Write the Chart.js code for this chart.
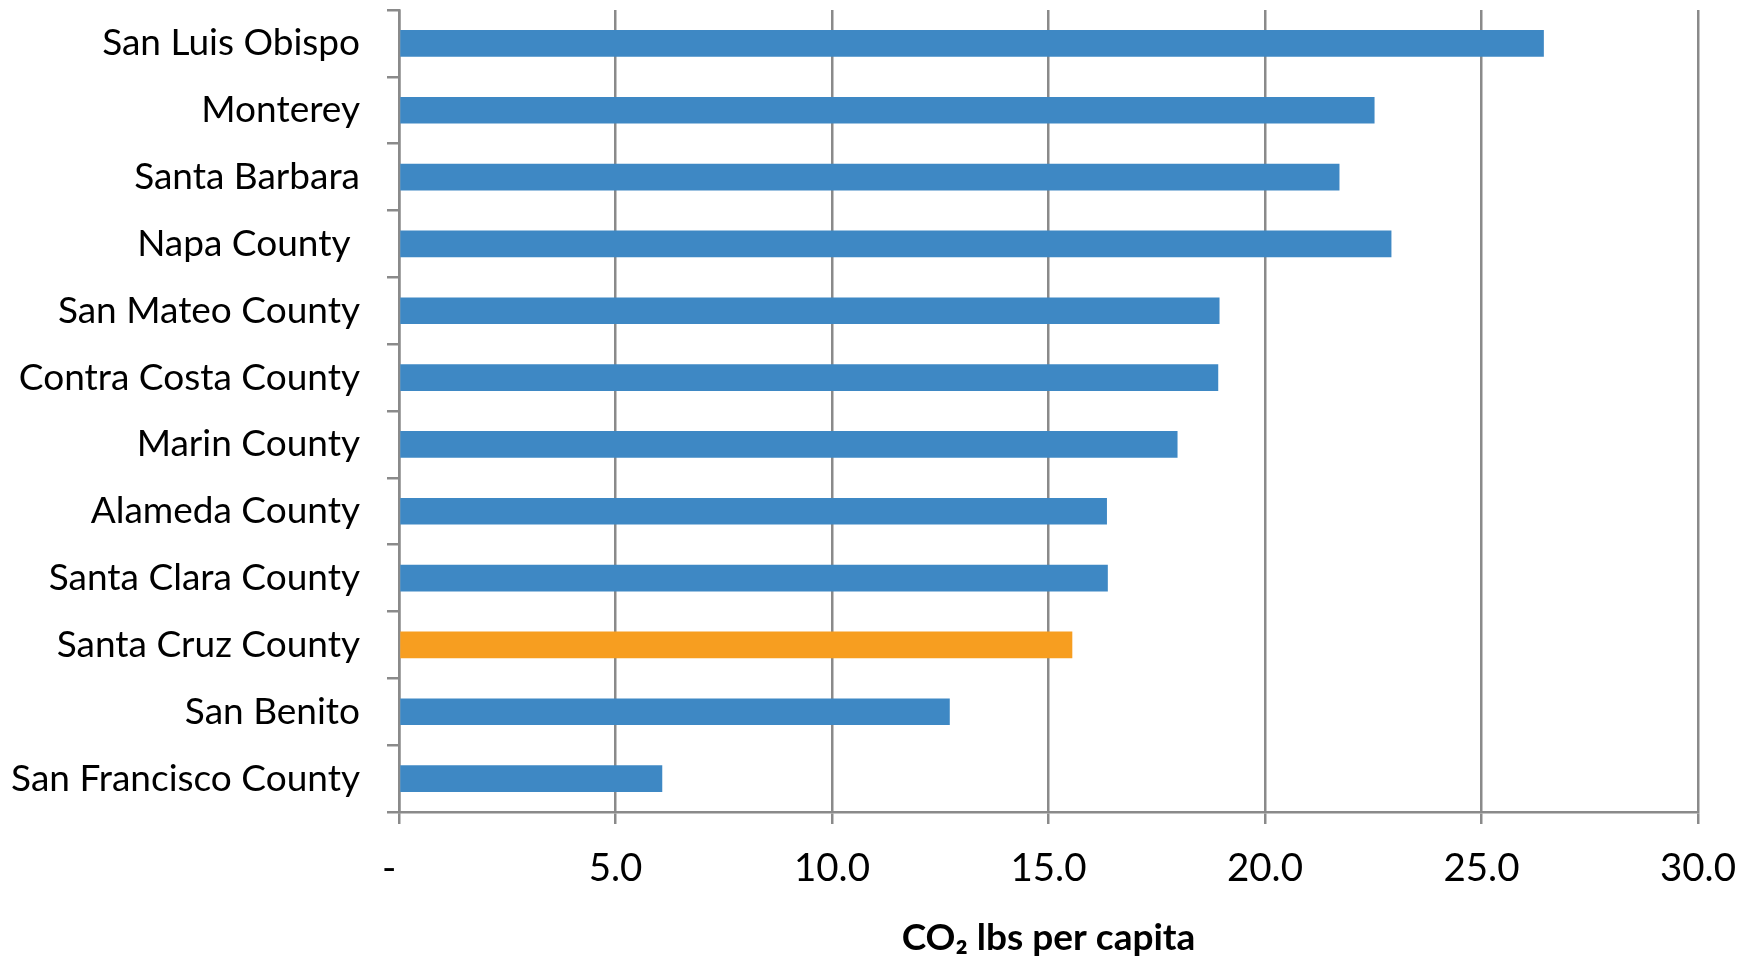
<!DOCTYPE html>
<html>
<head>
<meta charset="utf-8">
<title>CO₂ lbs per capita by county</title>
<script src="https://cdn.jsdelivr.net/npm/chart.js@4/dist/chart.umd.min.js"></script>
<style>
  html, body { margin: 0; padding: 0; background: #ffffff; }
  #wrap { width: 1758px; height: 961px; }
</style>
</head>
<body>
<div id="wrap"><canvas id="chart" width="1758" height="961"></canvas></div>
<script>
// Counties, top to bottom
const counties = [
  'San Luis Obispo',
  'Monterey',
  'Santa Barbara',
  'Napa County ',
  'San Mateo County',
  'Contra Costa County',
  'Marin County',
  'Alameda County',
  'Santa Clara County',
  'Santa Cruz County',
  'San Benito',
  'San Francisco County'
];

// CO2 emissions, lbs per capita
const co2PerCapita = [26.44, 22.53, 21.72, 22.92, 18.95, 18.92, 17.98, 16.35, 16.37, 15.55, 12.72, 6.08];

// County shown in the highlight colour
const highlightCounty = 'Santa Cruz County';

// X axis range and tick spacing
const xMin = 0;
const xMax = 30;
const xStep = 5;

const axisTitle = 'CO₂ lbs per capita';

const BLUE = '#3e88c4';
const ORANGE = '#f79e20';
const GRID = '#8a8a8a';
const FONT = 'Lato, "Open Sans", "Noto Sans", sans-serif';

const barColors = counties.map(c => c === highlightCounty ? ORANGE : BLUE);

new Chart(document.getElementById('chart'), {
  type: 'bar',
  data: {
    labels: counties,
    datasets: [{
      data: co2PerCapita,
      backgroundColor: barColors,
      borderWidth: 0,
      categoryPercentage: 1.0,
      barPercentage: 0.4
    }]
  },
  options: {
    indexAxis: 'y',
    responsive: false,
    animation: false,
    events: [],
    layout: { padding: { top: 10, right: 60, bottom: 0, left: 0 } },
    plugins: {
      legend: { display: false },
      tooltip: { enabled: false },
      title: { display: false }
    },
    scales: {
      x: {
        type: 'linear',
        min: xMin,
        max: xMax,
        afterFit(scale) { scale.height = 149; },
        ticks: {
          stepSize: xStep,
          color: '#000000',
          padding: 21,
          font: { family: FONT, size: 38.5 },
          callback: v => v === 0 ? '-  ' : v.toFixed(1)
        },
        grid: {
          color: GRID,
          lineWidth: 2.5,
          drawTicks: true,
          tickLength: 12
        },
        border: { display: true, color: GRID, width: 2.5 },
        title: {
          display: true,
          text: axisTitle,
          color: '#000000',
          font: { family: FONT, size: 37, weight: 'bold' },
          padding: { top: 0, bottom: 1 }
        }
      },
      y: {
        type: 'category',
        afterFit(scale) {
          scale.width = 399;
          // labels sit inside their bands, so no overhang above or below
          scale.paddingTop = 0;
          scale.paddingBottom = 0;
        },
        ticks: {
          color: '#000000',
          padding: 27,
          font: { family: FONT, size: 37 }
        },
        grid: {
          offset: true,
          drawOnChartArea: false,
          drawTicks: true,
          tickLength: 12,
          color: GRID,
          lineWidth: 2.5
        },
        border: { display: true, color: GRID, width: 2.5 }
      }
    }
  }
});
</script>
</body>
</html>
